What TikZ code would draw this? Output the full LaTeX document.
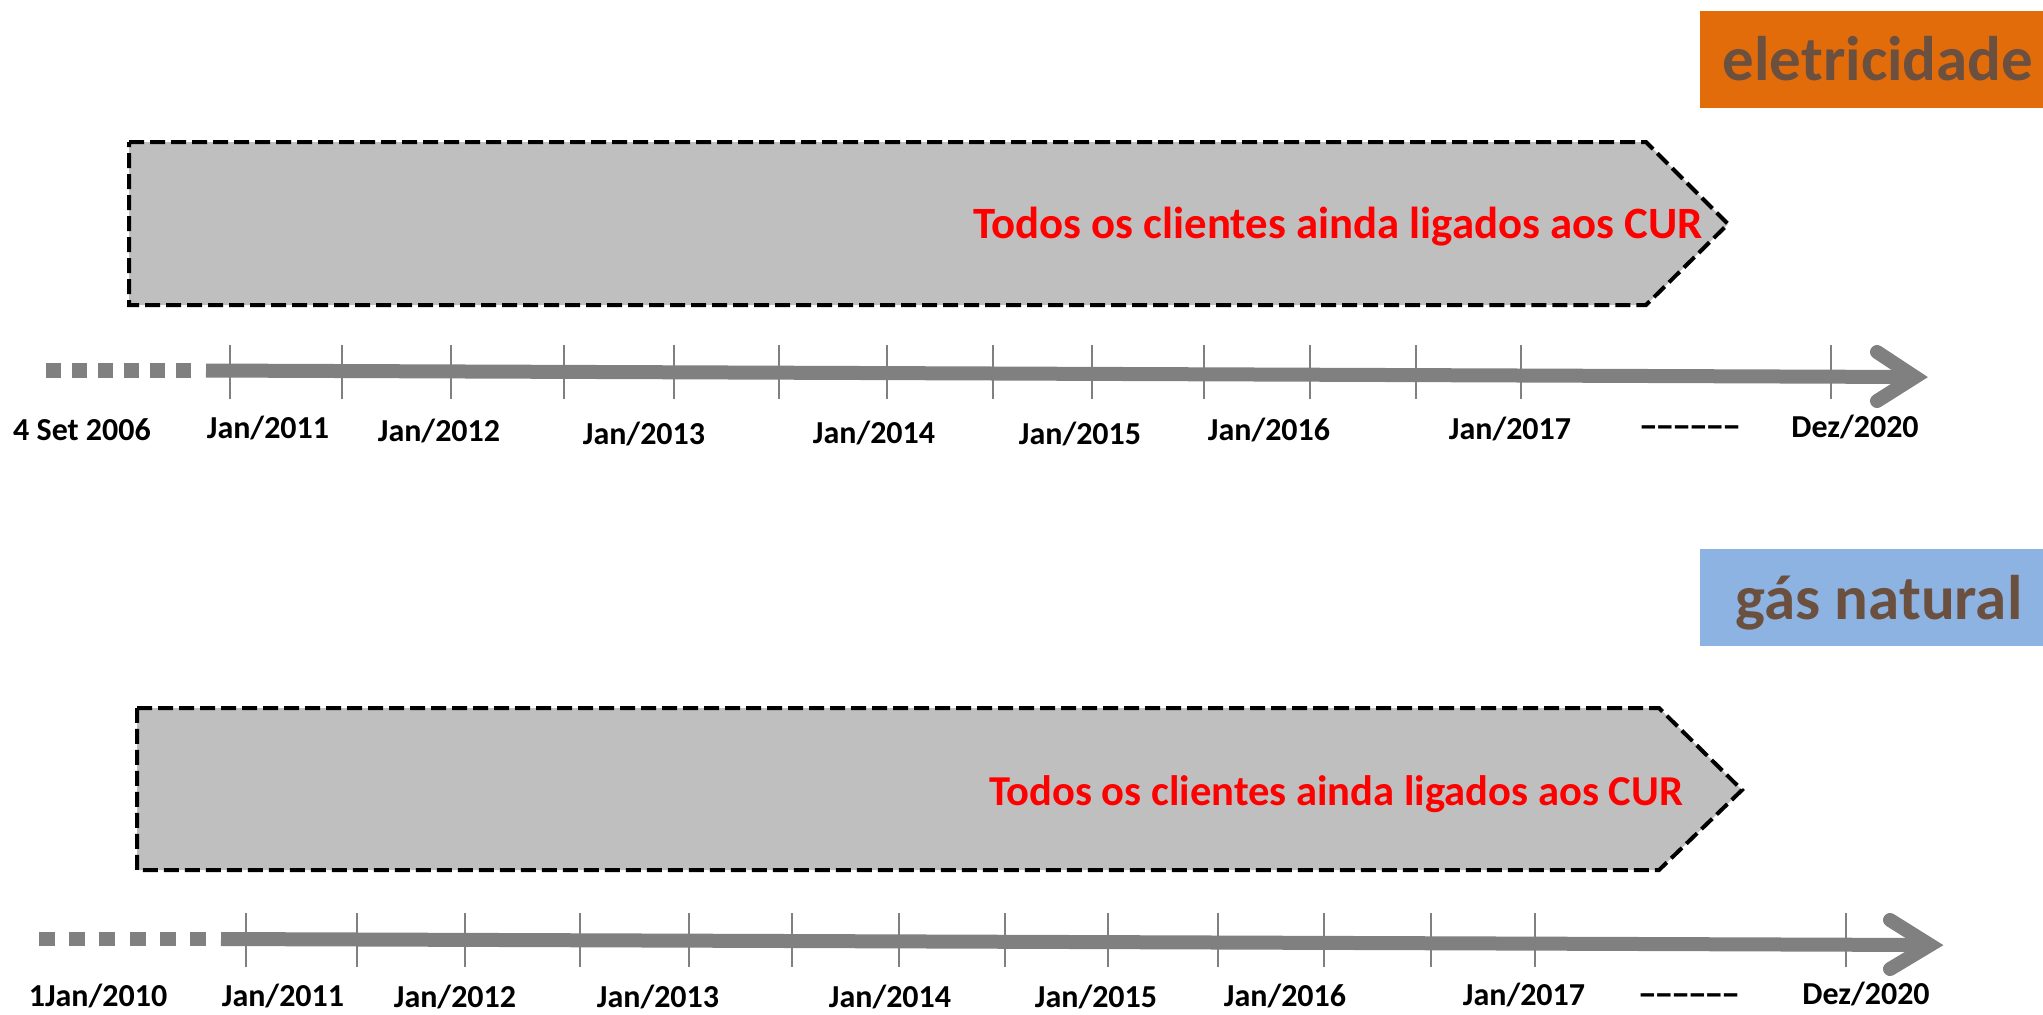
\documentclass[tikz,border=0pt]{standalone}
\usepackage{fontspec}
\usepackage{graphicx}
\setmainfont{Carlito}
\definecolor{axisgray}{HTML}{808080}
\definecolor{boxgray}{HTML}{BFBFBF}
\definecolor{elecorange}{HTML}{E36C0A}
\definecolor{gasblue}{HTML}{8DB3E2}
\definecolor{titlebrown}{HTML}{6B5040}
\definecolor{curred}{HTML}{FF0000}
\newcommand\myhy{\scalebox{1.7}[1]{-}}
\newcommand\mydashes{\myhy\myhy\myhy\myhy\myhy\myhy}
\begin{document}
\begin{tikzpicture}[x=0.5pt,y=-0.5pt,
  axisline/.style={draw=axisgray, line width=7pt},
  arrowhead/.style={draw=axisgray, line width=7pt, line cap=round, line join=miter},
  tickline/.style={draw=axisgray, line width=1pt},
  dashbit/.style={fill=axisgray},
  phase/.style={fill=boxgray, draw=black, line width=2pt, dash pattern=on 7.5pt off 3pt},
  lbl/.style={font=\bfseries\fontsize{16pt}{19pt}\selectfont, anchor=base, inner sep=0pt},
  curtxt/.style={font=\bfseries\fontsize{22.4pt}{26pt}\selectfont, text=curred, anchor=base, inner sep=0pt},
  curtxtb/.style={font=\bfseries\fontsize{21.3pt}{25pt}\selectfont, text=curred, anchor=base, inner sep=0pt},
  titletxt/.style={font=\bfseries\fontsize{31.5pt}{36pt}\selectfont, text=titlebrown, anchor=base, inner sep=0pt}
]
\useasboundingbox (0,0) rectangle (2043,1014);

% ---------- title boxes ----------
\fill[elecorange] (1700,11) rectangle (2043,108);
\node[titletxt] (telec) at (1878,80) {eletricidade};
\fill[gasblue] (1700,549) rectangle (2043,646);
\node[titletxt] (tgas) at (1879,619) {gás natural};

% ---------- top phase ----------
\path[phase] (129,142) -- (1646,142) -- (1728,224) -- (1646,305) -- (129,305) -- cycle;
\node[curtxt] (cur1) at (1338,238) {Todos os clientes ainda ligados aos CUR};

% ---------- top axis ----------
\foreach \i in {0,...,5} {
  \fill[dashbit] ({46+\i*26},363) rectangle ++(15,15);
}
\coordinate (a1s) at (206,370.5);
\coordinate (a1e) at (1915,377);
\path[axisline] (a1s) -- (a1e);
\path[arrowhead] (1877,352) -- (a1e) -- (1877,401);
\foreach \x in {230,342,451,564,674,779,887,993,1092,1204,1310,1416,1521,1831} {
  \path[tickline] (\x,345) -- (\x,399);
}
\node[lbl] (l1a) at (82,440) {4 Set 2006};
\node[lbl] (l1b) at (268,438) {Jan/2011};
\node[lbl] (l1c) at (439,441) {Jan/2012};
\node[lbl] (l1d) at (644,444) {Jan/2013};
\node[lbl] (l1e) at (874,443) {Jan/2014};
\node[lbl] (l1f) at (1080,444) {Jan/2015};
\node[lbl] (l1g) at (1269,440) {Jan/2016};
\node[lbl] (l1h) at (1510,439) {Jan/2017};
\node[lbl] (l1i) at (1690,436) {\mydashes};
\node[lbl] (l1j) at (1855,437) {Dez/2020};

% ---------- bottom phase ----------
\path[phase] (137,708) -- (1659,708) -- (1742,790) -- (1659,870) -- (137,870) -- cycle;
\node[curtxtb] (cur2) at (1336,805) {Todos os clientes ainda ligados aos CUR};

% ---------- bottom axis ----------
\foreach \i in {0,...,5} {
  \fill[dashbit] ({39+\i*30.2},932) rectangle ++(16,14);
}
\coordinate (a2s) at (221,939);
\coordinate (a2e) at (1930,945);
\path[axisline] (a2s) -- (a2e);
\path[arrowhead] (1890,920) -- (a2e) -- (1890,969);
\foreach \x in {246,357,465,580,689,792,899,1005,1108,1218,1324,1431,1535,1846} {
  \path[tickline] (\x,913) -- (\x,967);
}
\node[lbl] (l2a) at (98,1006) {1Jan/2010};
\node[lbl] (l2b) at (283,1006) {Jan/2011};
\node[lbl] (l2c) at (455,1007) {Jan/2012};
\node[lbl] (l2d) at (658,1007) {Jan/2013};
\node[lbl] (l2e) at (890,1007) {Jan/2014};
\node[lbl] (l2f) at (1096,1007) {Jan/2015};
\node[lbl] (l2g) at (1285,1006) {Jan/2016};
\node[lbl] (l2h) at (1524,1005) {Jan/2017};
\node[lbl] (l2i) at (1689,1004) {\mydashes};
\node[lbl] (l2j) at (1866,1004) {Dez/2020};
\end{tikzpicture}
\end{document}
